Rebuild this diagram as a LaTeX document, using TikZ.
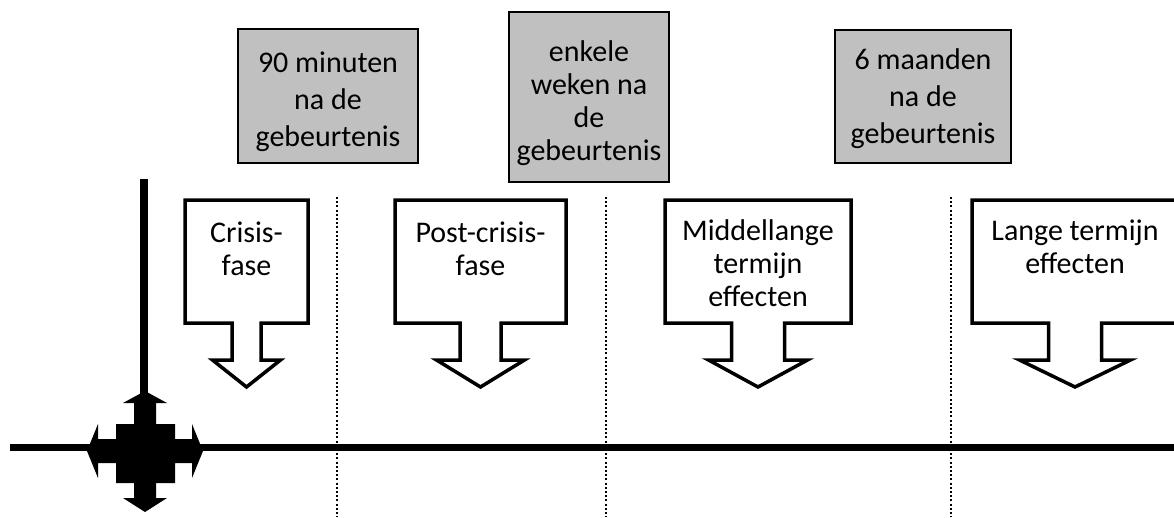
\documentclass[tikz,border=0pt]{standalone}
\usepackage{fontspec}
\setmainfont{Carlito}
\definecolor{boxgray}{HTML}{C0C0C0}
\newcommand\topstrut{\rule{0pt}{22.5pt}}
\newcommand\mycallout[4]{%
  \draw[calloutline] ({#1-#2},200) -- ({#1+#2},200) -- ({#1+#2},323) -- ({#1+#3},323)
    -- ({#1+#3},360) -- ({#1+#4},360) -- (#1,387) -- ({#1-#4},360) -- ({#1-#3},360)
    -- ({#1-#3},323) -- ({#1-#2},323) -- cycle;}
\tikzset{
  graybox/.style={draw=black, line width=1.5pt, fill=boxgray, inner sep=0pt},
  lbl/.style={align=center, inner sep=0pt, anchor=north, font=\fontsize{30}{33}\selectfont},
  lblwide/.style={align=center, inner sep=0pt, anchor=north, font=\fontsize{30}{37}\selectfont},
  calloutline/.style={draw=black, fill=white, line width=3.5pt, line join=miter},
  axisline/.style={line width=7.5pt},
  divider/.style={line width=1.5pt, dash pattern=on 2pt off 2.2pt},
}
\begin{document}
\begin{tikzpicture}[x=1pt,y=-1pt]
\useasboundingbox (0,0) rectangle (1174,517);
\clip (0,0) rectangle (1174,517);

% dotted dividers
\foreach \xx/\nm in {337/d1,606/d2,951/d3}{
  \coordinate (\nm top) at (\xx,197);
  \coordinate (\nm bot) at (\xx,517);
  \draw[divider] (\nm top) -- (\nm bot);
}

% axes
\coordinate (hleft) at (10,447.5);
\coordinate (hright) at (1174,447.5);
\coordinate (vtop) at (144,179);
\coordinate (hub) at (144,400);
\draw[axisline] (hleft) -- (hright);
\draw[axisline] (vtop) -- (hub);

% four-way arrow
\fill[black] (145,391) -- (167,403) -- (156,403) -- (156,424) -- (175,424) -- (175,439)
  -- (192,439) -- (192,424) -- (203,451) -- (192,478) -- (192,463) -- (175,463)
  -- (175,483) -- (156,483) -- (156,498) -- (167,498) -- (145,512) -- (123,498)
  -- (134,498) -- (134,483) -- (116,483) -- (116,463) -- (98,463) -- (98,478)
  -- (87,451) -- (98,424) -- (98,439) -- (116,439) -- (116,424) -- (134,424)
  -- (134,403) -- (123,403) -- cycle;

% callouts
\mycallout{246.5}{61.5}{14.5}{34}
\mycallout{480.5}{85.5}{20.5}{44}
\mycallout{758}{93}{26.5}{49.5}
\mycallout{1075}{103}{26.5}{55.5}

\node[lbl] (c1) at (246.5,219.5) {\topstrut Crisis-\\fase};
\node[lbl] (c2) at (480.5,219.5) {\topstrut Post-crisis-\\fase};
\node[lbl] (c3) at (758,217.5) {\topstrut Middellange\\termijn\\effecten};
\node[lbl] (c4) at (1075,217.5) {\topstrut Lange termijn\\effecten};

% gray boxes
\node[graybox, minimum width=180pt, minimum height=134pt] (g1) at (328,96) {};
\node[graybox, minimum width=160pt, minimum height=170pt] (g2) at (589,97) {};
\node[graybox, minimum width=176pt, minimum height=133pt] (g3) at (923,96.5) {};

\node[lblwide] (t1) at (328,49.5) {\topstrut 90 minuten\\na de\\gebeurtenis};
\node[lbl] (t2) at (589,38.5) {\topstrut enkele\\weken na\\de\\gebeurtenis};
\node[lblwide] (t3) at (923,46.5) {\topstrut 6 maanden\\na de\\gebeurtenis};
\end{tikzpicture}
\end{document}
